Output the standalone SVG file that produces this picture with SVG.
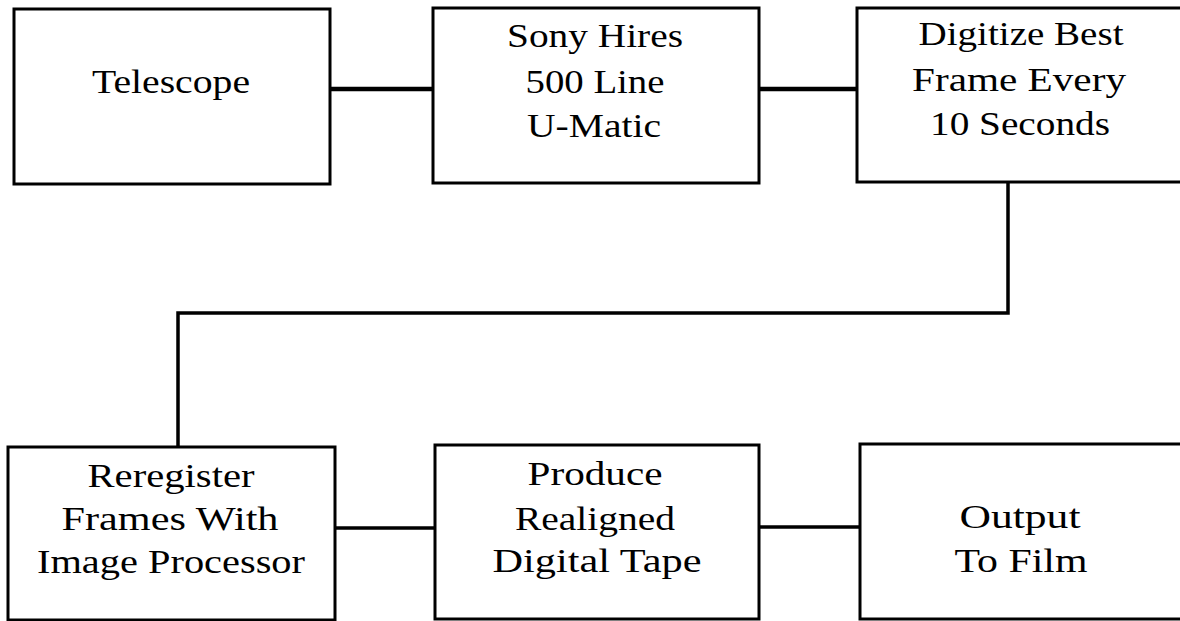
<svg xmlns="http://www.w3.org/2000/svg" width="1180" height="621" viewBox="0 0 1180 621">
<style>
.box{fill:#fff;stroke:#000;stroke-width:3}
.conn{fill:none;stroke:#000;stroke-width:3.5;stroke-linejoin:miter}
.thick{stroke-width:4.5}
text{font-family:"Liberation Serif","Times New Roman",serif;font-size:33px;fill:#000;text-anchor:middle}
</style>
<rect width="1180" height="621" fill="#fff"/>
<g id="connectors">
<path class="conn thick" d="M330 89H433"/>
<path class="conn thick" d="M759 89H857"/>
<path class="conn" d="M1008 182V313H178V447"/>
<path class="conn" d="M335 528H435"/>
<path class="conn" d="M759 527H860"/>
</g>
<g id="telescope">
<rect class="box" x="14" y="9" width="316" height="175"/>
<text x="171" y="93" textLength="158" lengthAdjust="spacingAndGlyphs">Telescope</text>
</g>
<g id="sony">
<rect class="box" x="433" y="8" width="326" height="175"/>
<text x="595" y="47" textLength="176" lengthAdjust="spacingAndGlyphs">Sony Hires</text>
<text x="595" y="93" textLength="139" lengthAdjust="spacingAndGlyphs">500 Line</text>
<text x="594" y="137" textLength="134" lengthAdjust="spacingAndGlyphs">U-Matic</text>
</g>
<g id="digitize">
<rect class="box" x="857" y="8" width="326" height="174"/>
<text x="1021" y="45" textLength="205" lengthAdjust="spacingAndGlyphs">Digitize Best</text>
<text x="1019" y="91" textLength="214" lengthAdjust="spacingAndGlyphs">Frame Every</text>
<text x="1020" y="135" textLength="180" lengthAdjust="spacingAndGlyphs">10 Seconds</text>
</g>
<g id="reregister">
<rect class="box" x="8" y="447" width="327" height="173"/>
<text x="171" y="487" textLength="167" lengthAdjust="spacingAndGlyphs">Reregister</text>
<text x="170" y="530" textLength="217" lengthAdjust="spacingAndGlyphs">Frames With</text>
<text x="171" y="573" textLength="268" lengthAdjust="spacingAndGlyphs">Image Processor</text>
</g>
<g id="produce">
<rect class="box" x="435" y="445" width="324" height="174"/>
<text x="595" y="485" textLength="135" lengthAdjust="spacingAndGlyphs">Produce</text>
<text x="595" y="530" textLength="160" lengthAdjust="spacingAndGlyphs">Realigned</text>
<text x="597" y="572" textLength="209" lengthAdjust="spacingAndGlyphs">Digital Tape</text>
</g>
<g id="output">
<rect class="box" x="860" y="444" width="323" height="175"/>
<text x="1020" y="528" textLength="121" lengthAdjust="spacingAndGlyphs">Output</text>
<text x="1021" y="572" textLength="133" lengthAdjust="spacingAndGlyphs">To Film</text>
</g>
</svg>
